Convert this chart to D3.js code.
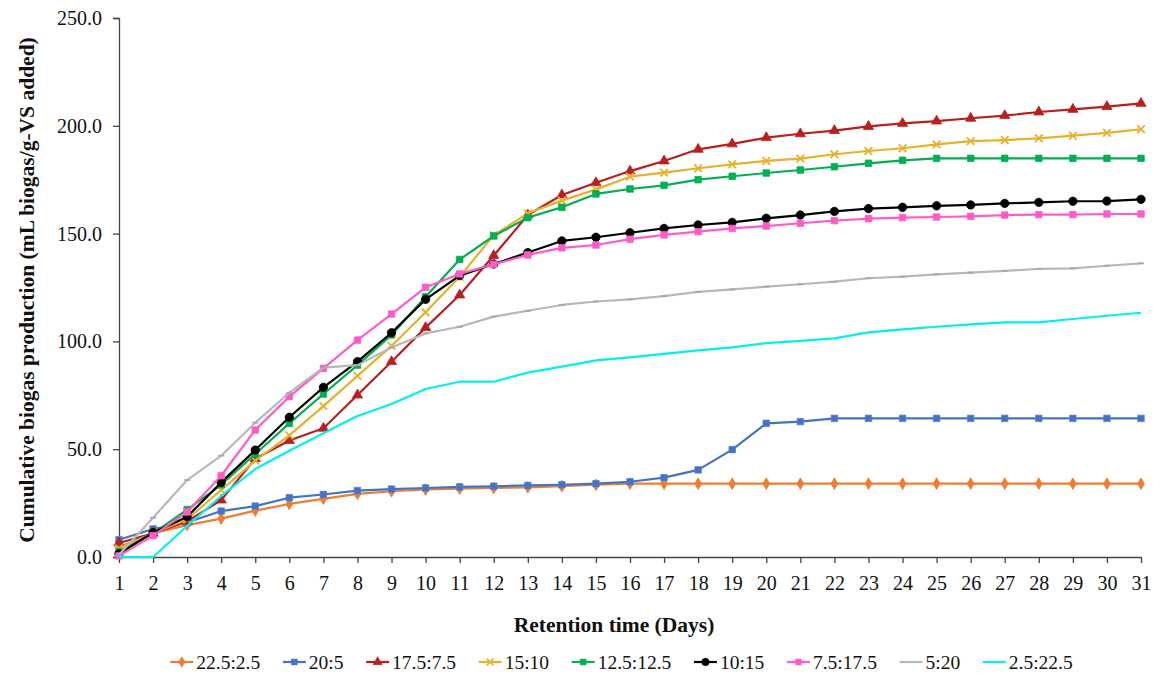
<!DOCTYPE html>
<html>
<head>
<meta charset="utf-8">
<script src="https://cdn.jsdelivr.net/npm/d3@7/dist/d3.min.js"></script>
<style>
  html, body { margin: 0; padding: 0; background: #fff; }
  svg { display: block; font-family: 'Liberation Serif', 'Times New Roman', serif; }
</style>
</head>
<body>
<svg id="chart" width="1160" height="677"></svg>
<script>
// ---- Data ----
const days = d3.range(1, 32);
const yTicks = [0, 50, 100, 150, 200, 250];
const seriesNames = ["22.5:2.5", "20:5", "17.5:7.5", "15:10", "12.5:12.5", "10:15", "7.5:17.5", "5:20", "2.5:22.5"];

const s22_5 = [4.5, 11, 14.8, 17.8, 21.5, 24.6, 27, 29.3, 30.5, 31.3, 31.7, 32, 32.3, 32.9, 33.5, 34, 34, 34, 34, 34, 34, 34, 34, 34, 34, 34, 34, 34, 34, 34, 34];
const s20 = [8, 13, 16, 21.3, 23.6, 27.5, 29, 30.8, 31.5, 32, 32.5, 32.8, 33.2, 33.5, 34, 34.9, 36.8, 40.4, 49.8, 62, 62.8, 64.3, 64.3, 64.3, 64.3, 64.3, 64.3, 64.3, 64.3, 64.3, 64.3];
const s17_5 = [6.5, 11, 16.5, 26.4, 45.6, 54, 59.7, 75.1, 90.6, 106.4, 121.5, 139.8, 158.6, 167.9, 173.6, 179, 183.7, 189.1, 191.6, 194.5, 196.3, 197.8, 199.7, 201.1, 202.2, 203.5, 204.7, 206.4, 207.6, 208.9, 210.4];
const s15 = [4, 11, 17.5, 31, 44.7, 56.4, 70, 84, 97.9, 113.5, 130, 149.3, 159.4, 165.3, 170.5, 176.4, 178.3, 180.3, 182.1, 183.7, 184.8, 186.8, 188.3, 189.6, 191.4, 192.9, 193.4, 194.2, 195.4, 196.7, 198.4];
const s12_5 = [2.5, 11, 22, 33.5, 47.8, 62, 75.6, 89, 103, 120.7, 138, 148.9, 157.4, 162.2, 168.4, 170.7, 172.4, 175, 176.6, 178.1, 179.5, 181, 182.6, 184, 184.9, 184.9, 184.9, 184.9, 184.9, 184.9, 184.9];
const s10 = [1.5, 11.3, 18.7, 34.6, 49.6, 64.8, 78.7, 90.6, 104, 119.5, 130.5, 135.9, 141.2, 146.6, 148.3, 150.4, 152.4, 154, 155.2, 157.1, 158.6, 160.3, 161.6, 162.2, 162.9, 163.3, 164, 164.5, 165, 165.1, 165.9];
const s7_5 = [0.5, 9.9, 20.9, 37.7, 58.9, 74.4, 87.5, 100.6, 112.7, 125.1, 131.3, 135.8, 140.1, 143.4, 144.7, 147.4, 149.4, 150.9, 152.4, 153.5, 154.8, 156, 156.9, 157.4, 157.7, 158, 158.6, 158.8, 158.8, 159.1, 159.1];
const s5 = [1, 18.2, 35.7, 47, 62.3, 76.2, 87.8, 89, 97.2, 103.7, 106.8, 111.5, 114.2, 116.9, 118.5, 119.5, 121, 123, 124.1, 125.4, 126.5, 127.7, 129.3, 130, 131.1, 131.9, 132.7, 133.6, 133.9, 135.1, 136.2];
const s2_5 = [0, 0, 14.4, 28.3, 40.8, 49.3, 57.4, 65.4, 71, 77.9, 81.3, 81.3, 85.5, 88.3, 91.2, 92.6, 94.2, 95.8, 97.2, 99.2, 100.2, 101.4, 104.2, 105.6, 106.8, 107.9, 108.8, 108.8, 110.4, 111.9, 113.3];

const seriesValues = [s22_5, s20, s17_5, s15, s12_5, s10, s7_5, s5, s2_5];
const colors = ["#ED7D31", "#4472C4", "#B81F1F", "#E8B12A", "#00B050", "#000000", "#FF5CC8", "#B8B8B8", "#00F0F0"];
const markers = ["diamond", "square", "triangle", "x", "square", "circle", "square", "dash", "none"];

// ---- Layout ----
const svg = d3.select("#chart");
const plotLeft = 119, plotRight = 1141, plotTop = 18, plotBottom = 557;

const x = d3.scaleLinear().domain([1, 31]).range([plotLeft, plotRight]);
const y = d3.scaleLinear().domain([0, 250]).range([plotBottom, plotTop]);

const axisColor = "#444";
const fontFam = "'Liberation Serif', 'Times New Roman', serif";

// Y axis
const gy = svg.append("g").attr("transform", `translate(${plotLeft},0)`)
  .call(d3.axisLeft(y).tickValues(yTicks).tickFormat(d3.format(".1f")).tickSize(6).tickPadding(11));
gy.attr("font-family", fontFam);
gy.select(".domain").attr("stroke", axisColor).attr("stroke-width", 1.3);
gy.selectAll(".tick line").attr("stroke", axisColor).attr("stroke-width", 1.3);
gy.selectAll(".tick text").attr("font-size", 20).attr("fill", "#111");

// X axis
const gx = svg.append("g").attr("transform", `translate(0,${plotBottom})`)
  .call(d3.axisBottom(x).tickValues(days).tickFormat(d3.format("d")).tickSize(6).tickSizeOuter(0).tickPadding(13));
gx.attr("font-family", fontFam);
gx.select(".domain").attr("stroke", axisColor).attr("stroke-width", 1.3);
gx.selectAll(".tick line").attr("stroke", axisColor).attr("stroke-width", 1.3);
gx.selectAll(".tick text").attr("font-size", 20).attr("fill", "#111");

// Titles
svg.append("text")
  .attr("x", 614).attr("y", 632)
  .attr("text-anchor", "middle")
  .attr("font-size", 21.5).attr("font-weight", "bold").attr("fill", "#111")
  .text("Retention time (Days)");

svg.append("text")
  .attr("transform", `translate(34,290) rotate(-90)`)
  .attr("text-anchor", "middle")
  .attr("font-size", 21.5).attr("font-weight", "bold").attr("fill", "#111")
  .text("Cumulative biogas production (mL biogas/g-VS added)");

// Marker path generator
function markerPath(type, scale) {
  const k = scale || 1;
  switch (type) {
    case "diamond": return d3.symbol().type(d3.symbolDiamond).size(40 * k)();
    case "square": return d3.symbol().type(d3.symbolSquare).size(42 * k)();
    case "triangle": return d3.symbol().type(d3.symbolTriangle).size(45 * k)();
    case "circle": return d3.symbol().type(d3.symbolCircle).size(55 * k)();
    case "x": { const r = 3.8 * Math.sqrt(k); return `M${-r},${-r}L${r},${r}M${-r},${r}L${r},${-r}`; }
    case "dash": return "M-3,0L3,0";
    default: return null;
  }
}

// Lines
const line = d3.line().x((d, i) => x(days[i])).y(d => y(d));

seriesValues.forEach((vals, si) => {
  const g = svg.append("g");
  g.append("path")
    .attr("d", line(vals))
    .attr("fill", "none")
    .attr("stroke", colors[si])
    .attr("stroke-width", 2.2)
    .attr("stroke-linejoin", "round");
  const m = markers[si];
  if (m !== "none") {
    const stroked = (m === "x" || m === "dash");
    g.selectAll("path.mk").data(vals).enter().append("path")
      .attr("class", "mk")
      .attr("transform", (d, i) => `translate(${x(days[i])},${y(d)})`)
      .attr("d", markerPath(m))
      .attr("fill", stroked ? "none" : colors[si])
      .attr("stroke", m === "dash" ? "#a8a8a8" : (si === 1 ? "#5b82c9" : colors[si]))
      .attr("stroke-width", stroked ? 1.8 : 0.8);
  }
});

// Legend
const legend = svg.append("g").attr("font-family", fontFam);
const legendY = 662;
const items = [];
seriesNames.forEach((name, si) => {
  const it = legend.append("g");
  it.append("line").attr("x1", 0).attr("x2", 23).attr("y1", 0).attr("y2", 0)
    .attr("stroke", colors[si]).attr("stroke-width", 2.2);
  const m = markers[si];
  if (m !== "none" && m !== "dash") {
    it.append("path").attr("transform", "translate(11.5,0)")
      .attr("d", markerPath(m, 0.8))
      .attr("fill", m === "x" ? "none" : colors[si])
      .attr("stroke", colors[si]).attr("stroke-width", m === "x" ? 1.6 : 0.6);
  }
  const t = it.append("text").attr("x", 26).attr("y", 7)
    .attr("font-size", 19.5).attr("fill", "#111").text(name);
  const w = 26 + t.node().getComputedTextLength();
  items.push({ it, w });
});
const gap = 22.6;
const total = d3.sum(items, d => d.w) + gap * (items.length - 1);
let start = 621.5 - total / 2;
items.forEach(d => {
  d.it.attr("transform", `translate(${start},${legendY})`);
  start += d.w + gap;
});
</script>
</body>
</html>
